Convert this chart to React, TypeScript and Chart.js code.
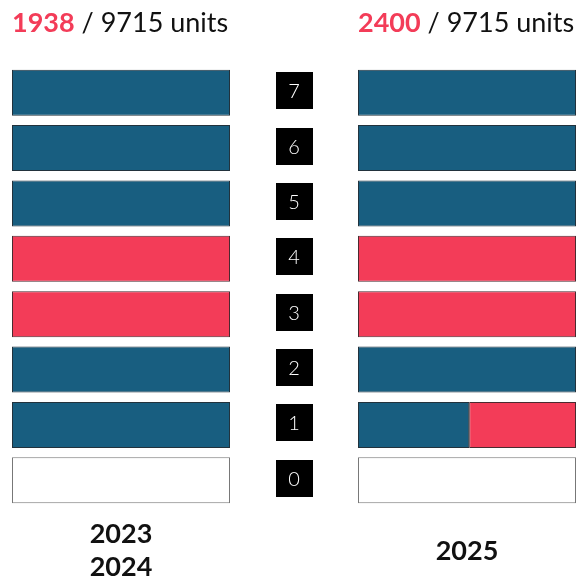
import React, { useEffect, useRef } from "react";
import { Chart, registerables } from "chart.js";

Chart.register(...registerables);

// Floors from top to bottom
const floors = ["7", "6", "5", "4", "3", "2", "1", "0"];
// Share of each floor (0..1) in each status, per period
const blue2023 = [1, 1, 1, 0, 0, 1, 1, 0];
const red2023 = [0, 0, 0, 1, 1, 0, 0, 0];
const blue2025 = [1, 1, 1, 0, 0, 1, 0.51, 0];
const red2025 = [0, 0, 0, 1, 1, 0, 0.49, 0];

const periodLabels = [["2023", "2024"], ["2025"]];
const soldUnits = [1938, 2400];
const totalUnits = 9715;

const BLUE = "#185E80";
const RED = "#F33C58";
const GAP = 0.587;

type Seg = [number, number] | null;

function segs(blue: number[], red: number[], offset: number) {
  const b: Seg[] = blue.map((v) => (v > 0 ? [offset, offset + v] : null));
  const r: Seg[] = red.map((v, i) =>
    v > 0 ? [offset + blue[i], offset + blue[i] + v] : null
  );
  const e: Seg[] = blue.map((v, i) =>
    v + red[i] < 1 ? [offset + v + red[i], offset + 1] : null
  );
  return { b, r, e };
}

const floorLabelPlugin = {
  id: "floorLabels",
  afterDatasetsDraw(chart: any) {
    const { ctx, scales } = chart;
    const xs = scales.x;
    const ys = scales.y;
    const cx = xs.getPixelForValue(1 + GAP / 2);
    ctx.save();
    floors.forEach((f, i) => {
      const cy = ys.getPixelForValue(i) - 2;
      ctx.fillStyle = "#000";
      ctx.fillRect(Math.round(cx - 18.5), Math.round(cy - 18.5), 37, 37);
      ctx.fillStyle = "#fff";
      ctx.font = "300 20px Lato, 'Open Sans', sans-serif";
      ctx.textAlign = "center";
      ctx.textBaseline = "middle";
      ctx.fillText(f, cx, cy + 1);
    });
    ctx.restore();
  },
};

export default function App() {
  const ref = useRef<HTMLCanvasElement>(null);
  useEffect(() => {
    if (!ref.current) return;
    const L = segs(blue2023, red2023, 0);
    const R = segs(blue2025, red2025, 1 + GAP);
    const mk = (data: Seg[], bg: string, border: string) => ({
      data,
      backgroundColor: bg,
      borderColor: border,
      borderWidth: 1,
      borderSkipped: false,
      barPercentage: 0.832,
      categoryPercentage: 1,
      grouped: false,
    });
    const chart = new Chart(ref.current, {
      type: "bar",
      data: {
        labels: floors,
        datasets: [
          mk(L.b, BLUE, "#22323c"),
          mk(L.r, RED, "#4a2a30"),
          mk(L.e, "#ffffff", "#777777"),
          mk(R.b, BLUE, "#22323c"),
          mk(R.r, RED, "#4a2a30"),
          mk(R.e, "#ffffff", "#777777"),
        ] as any,
      },
      options: {
        indexAxis: "y",
        animation: false,
        responsive: false,
        maintainAspectRatio: false,
        layout: { padding: { left: 12, right: 5, top: 65, bottom: 73 } },
        scales: {
          x: { type: "linear", min: 0, max: 2 + GAP, display: false },
          y: { type: "category", display: false },
        },
        plugins: { legend: { display: false }, tooltip: { enabled: false } },
      },
      plugins: [floorLabelPlugin],
    });
    return () => chart.destroy();
  }, []);

  const font = "Lato, 'Open Sans', sans-serif";
  const header = (n: number, left: number) => (
    <div
      style={{
        position: "absolute",
        left,
        top: 5,
        fontFamily: font,
        fontSize: 27,
        color: "#111",
        whiteSpace: "nowrap",
      }}
    >
      <span style={{ color: RED, fontWeight: 700 }}>{n}</span> / {totalUnits} units
    </div>
  );
  const years = (lines: string[], cx: number) => (
    <div
      style={{
        position: "absolute",
        left: cx - 80,
        width: 160,
        top: 516,
        height: 66,
        display: "flex",
        flexDirection: "column",
        justifyContent: "center",
        alignItems: "center",
        fontFamily: font,
        fontWeight: 700,
        fontSize: 27,
        lineHeight: "33px",
        color: "#111",
      }}
    >
      {lines.map((l) => (
        <div key={l}>{l}</div>
      ))}
    </div>
  );

  return (
    <div
      style={{
        position: "fixed",
        left: 0,
        top: 0,
        width: 581,
        height: 581,
        background: "#fff",
        overflow: "hidden",
      }}
    >
      <canvas ref={ref} width={581} height={581} style={{ position: "absolute", left: 0, top: 0 }} />
      {header(soldUnits[0], 12)}
      {header(soldUnits[1], 358)}
      {years(periodLabels[0], 121)}
      {years(periodLabels[1], 467)}
    </div>
  );
}
